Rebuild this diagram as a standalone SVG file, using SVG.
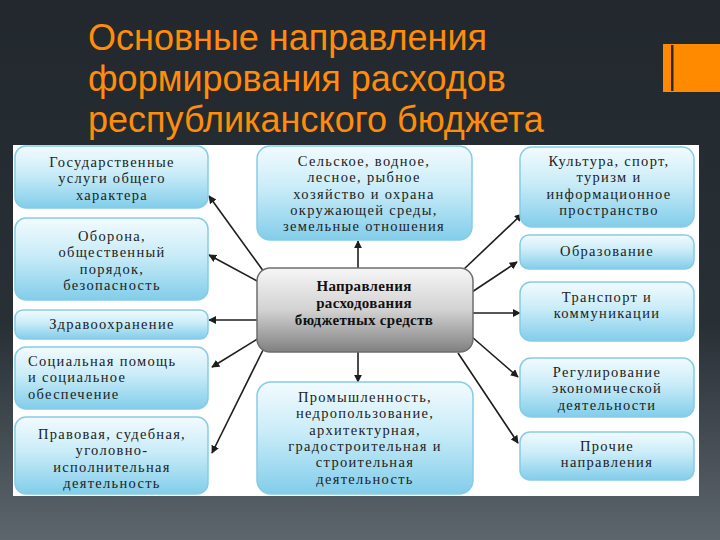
<svg xmlns="http://www.w3.org/2000/svg" width="720" height="540" viewBox="0 0 720 540">
<defs>
<linearGradient id="bg" x1="0" y1="0" x2="0" y2="1">
<stop offset="0" stop-color="#22282d"/>
<stop offset="0.6" stop-color="#283036"/>
<stop offset="1" stop-color="#5e666d"/>
</linearGradient>
<linearGradient id="blue" x1="0" y1="0" x2="0" y2="1">
<stop offset="0" stop-color="#f2fbfe"/>
<stop offset="0.45" stop-color="#c9ecf8"/>
<stop offset="1" stop-color="#82cdea"/>
</linearGradient>
<linearGradient id="gray" x1="0" y1="0" x2="0" y2="1">
<stop offset="0" stop-color="#f6f6f6"/>
<stop offset="0.5" stop-color="#d2d2d2"/>
<stop offset="1" stop-color="#808080"/>
</linearGradient>
<marker id="ah" viewBox="0 0 10 10" refX="9" refY="5" markerWidth="8" markerHeight="8" markerUnits="userSpaceOnUse" orient="auto">
<path d="M0,0 L10,5 L0,10 z" fill="#1e1e1e"/>
</marker>
<style>
.title{font-family:"Liberation Sans",Arial,sans-serif;font-size:36px;fill:#ff8c0a}
.box{fill:url(#blue);stroke:#86cce6;stroke-width:1.5}
.cbox{fill:url(#gray);stroke:#6e6e6e;stroke-width:1.5}
.t{font-family:"Liberation Serif","Times New Roman",serif;font-size:14.5px;letter-spacing:1.3px;fill:#222;text-anchor:middle}
.tl{font-family:"Liberation Serif","Times New Roman",serif;font-size:14.5px;letter-spacing:1.3px;fill:#222}
.tb{font-family:"Liberation Serif","Times New Roman",serif;font-size:15px;letter-spacing:0.3px;font-weight:bold;fill:#111;text-anchor:middle}
.c{stroke:#1e1e1e;stroke-width:1.6;fill:none;marker-end:url(#ah)}
</style>
</defs>
<rect width="720" height="540" fill="url(#bg)"/>
<g id="title">
<text class="title" x="88" y="50">Основные направления</text>
<text class="title" x="88" y="91">формирования расходов</text>
<text class="title" x="88" y="132">республиканского бюджета</text>
</g>
<g id="accent">
<rect x="663" y="44" width="57" height="48" fill="#ff8a00"/>
<rect x="671" y="45" width="2.5" height="46" fill="#2a2a2a"/>
</g>
<rect id="panel" x="13" y="145" width="686" height="351" fill="#ffffff"/>
<g id="connectors">
<line class="c" x1="264" y1="272" x2="209" y2="196"/>
<line class="c" x1="259" y1="282" x2="209" y2="255"/>
<line class="c" x1="258" y1="320" x2="209" y2="320"/>
<line class="c" x1="259" y1="338" x2="212" y2="367"/>
<line class="c" x1="264" y1="348" x2="212" y2="453"/>
<line class="c" x1="358" y1="268" x2="358" y2="241"/>
<line class="c" x1="358" y1="352" x2="358" y2="382"/>
<line class="c" x1="463" y1="270" x2="522" y2="214"/>
<line class="c" x1="472" y1="292" x2="517" y2="262"/>
<line class="c" x1="473" y1="313" x2="520" y2="313"/>
<line class="c" x1="472" y1="337" x2="518" y2="377"/>
<line class="c" x1="458" y1="353" x2="518" y2="443"/>
</g>
<g id="n1">
<rect class="box" x="15" y="146" width="193" height="62" rx="11"/>
<text class="t" x="112" y="167">Государственные</text>
<text class="t" x="112" y="183.3">услуги общего</text>
<text class="t" x="112" y="199.6">характера</text>
</g>
<g id="n2">
<rect class="box" x="15" y="218" width="193" height="82" rx="11"/>
<text class="t" x="112" y="241">Оборона,</text>
<text class="t" x="112" y="257.3">общественный</text>
<text class="t" x="112" y="273.6">порядок,</text>
<text class="t" x="112" y="290">безопасность</text>
</g>
<g id="n3">
<rect class="box" x="15" y="310" width="193" height="29" rx="8"/>
<text class="t" x="112" y="329">Здравоохранение</text>
</g>
<g id="n4">
<rect class="box" x="15" y="347" width="193" height="62" rx="11"/>
<text class="tl" x="28" y="366">Социальная помощь</text>
<text class="tl" x="28" y="382.3">и социальное</text>
<text class="tl" x="28" y="398.6">обеспечение</text>
</g>
<g id="n5">
<rect class="box" x="15" y="417" width="193" height="77" rx="11"/>
<text class="t" x="112" y="439">Правовая, судебная,</text>
<text class="t" x="112" y="455.3">уголовно-</text>
<text class="t" x="112" y="471.6">исполнительная</text>
<text class="t" x="112" y="488">деятельность</text>
</g>
<g id="n6">
<rect class="box" x="257" y="146" width="215" height="94" rx="13"/>
<text class="t" x="364" y="166">Сельское, водное,</text>
<text class="t" x="364" y="182.3">лесное, рыбное</text>
<text class="t" x="364" y="198.6">хозяйство и охрана</text>
<text class="t" x="364" y="215">окружающей среды,</text>
<text class="t" x="364" y="231.3">земельные отношения</text>
</g>
<g id="n7">
<rect class="cbox" x="257" y="268" width="216" height="84" rx="13"/>
<text class="tb" x="364" y="291">Направления</text>
<text class="tb" x="364" y="308">расходования</text>
<text class="tb" x="364" y="325">бюджетных средств</text>
</g>
<g id="n8">
<rect class="box" x="257" y="382" width="216" height="112" rx="14"/>
<text class="t" x="365" y="402">Промышленность,</text>
<text class="t" x="365" y="418.3">недропользование,</text>
<text class="t" x="365" y="434.6">архитектурная,</text>
<text class="t" x="365" y="451">градостроительная и</text>
<text class="t" x="365" y="467.3">строительная</text>
<text class="t" x="365" y="483.6">деятельность</text>
</g>
<g id="n9">
<rect class="box" x="520" y="147" width="174" height="80" rx="12"/>
<text class="t" x="609" y="166">Культура, спорт,</text>
<text class="t" x="609" y="182.3">туризм и</text>
<text class="t" x="609" y="198.6">информационное</text>
<text class="t" x="609" y="215">пространство</text>
</g>
<g id="n10">
<rect class="box" x="520" y="235" width="174" height="34" rx="9"/>
<text class="t" x="607" y="256">Образование</text>
</g>
<g id="n11">
<rect class="box" x="520" y="282" width="174" height="59" rx="11"/>
<text class="t" x="607" y="302">Транспорт и</text>
<text class="t" x="607" y="318.3">коммуникации</text>
</g>
<g id="n12">
<rect class="box" x="520" y="358" width="174" height="59" rx="11"/>
<text class="t" x="607" y="377">Регулирование</text>
<text class="t" x="607" y="393.3">экономической</text>
<text class="t" x="607" y="409.6">деятельности</text>
</g>
<g id="n13">
<rect class="box" x="520" y="432" width="174" height="48" rx="10"/>
<text class="t" x="607" y="451">Прочие</text>
<text class="t" x="607" y="467.3">направления</text>
</g>
</svg>
